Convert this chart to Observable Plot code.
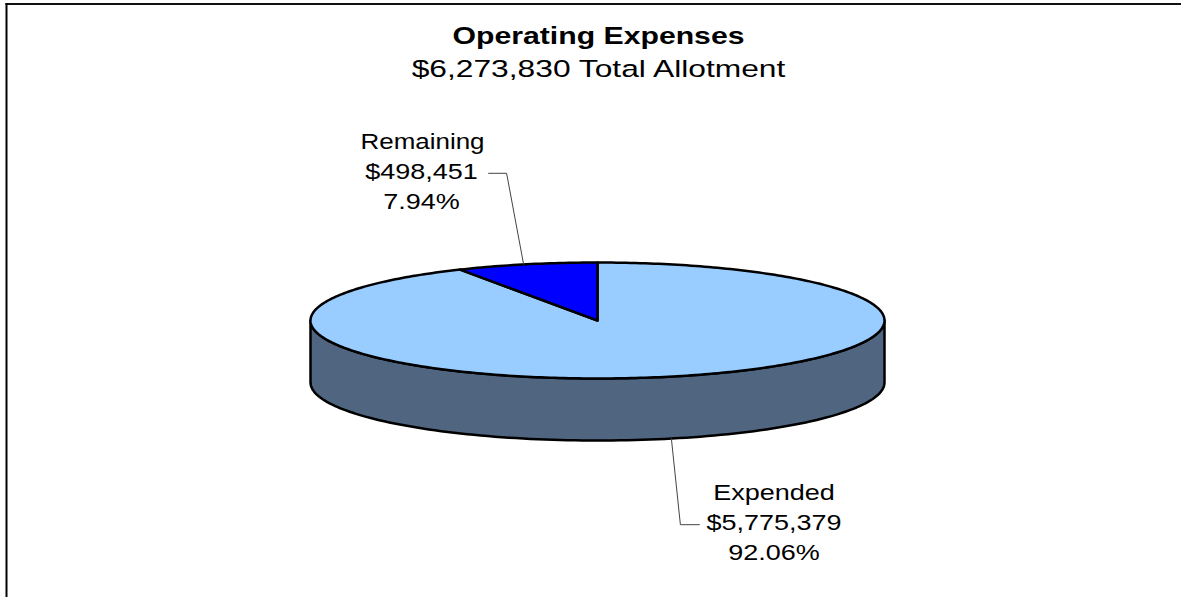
<!DOCTYPE html>
<html>
<head>
<meta charset="utf-8">
<script src="https://cdn.jsdelivr.net/npm/d3@7"></script>
<script src="https://cdn.jsdelivr.net/npm/@observablehq/plot@0.6"></script>
<style>
html,body{margin:0;padding:0;background:#fff;}
svg{display:block;max-width:none;}
</style>
</head>
<body>
<div id="chart"></div>
<script>
const categories = ["Expended", "Remaining"];
const amounts = [5775379, 498451];
const amountLabels = ["$5,775,379", "$498,451"];
const percentLabels = ["92.06%", "7.94%"];
const sliceColors = ["#99ccff", "#0000ff"];
const titleText = "Operating Expenses";
const subtitleText = "$6,273,830 Total Allotment";

const W = 1181, H = 597;
const cx = 597, cy = 320, rx = 287, ry = 58, depth = 62;
const sideColor = "#506580";
const font = "Liberation Sans";

const total = d3.sum(amounts);
const pt = a => ({x: cx + rx * Math.sin(a), y: cy - ry * Math.cos(a)});
let cum = 0;
const slices = categories.map((name, i) => {
  const a0 = cum / total * 2 * Math.PI;
  cum += amounts[i];
  const a1 = cum / total * 2 * Math.PI;
  return {name, a0, a1, mid: (a0 + a1) / 2};
});
const slicePts = slices.flatMap(s => {
  const n = Math.max(8, Math.ceil((s.a1 - s.a0) * 60));
  const arc = d3.range(n + 1).map(k => pt(s.a0 + (s.a1 - s.a0) * k / n));
  return [{x: cx, y: cy}, ...arc].map(p => ({...p, name: s.name}));
});
const front = d3.range(0, 121).map(k => pt(Math.PI / 2 + Math.PI * k / 120));
const sidePts = [...front, ...front.slice().reverse().map(p => ({x: p.x, y: p.y + depth}))];

const rimE = pt(slices[0].mid);
const rimR = pt(slices[1].mid);
const anchorE = {x: rimE.x + 3, y: rimE.y + depth};
const anchorR = {x: rimR.x - 3, y: rimR.y};
const leaderE = [anchorE, {x: anchorE.x + 9, y: anchorE.y + 86}, {x: anchorE.x + 28, y: anchorE.y + 86}];
const leaderR = [anchorR, {x: anchorR.x - 17, y: anchorR.y - 91}, {x: anchorR.x - 35, y: anchorR.y - 91}];

const lab = (x, y, text) => ({x, y, text});
const labelsRows = [
  lab(773.5, 492, categories[0]), lab(773.5, 522, amountLabels[0]), lab(773.5, 552, percentLabels[0]),
  lab(422, 141, categories[1]), lab(421, 171, amountLabels[1]), lab(421, 201, percentLabels[1])
];

const mL = 6, mT = 3.5;
const plot = Plot.plot({
  width: W, height: H,
  marginLeft: mL, marginTop: mT, marginRight: 0, marginBottom: 0,
  x: {domain: [mL, W], range: [mL, W], axis: null},
  y: {domain: [mT, H], range: [mT, H], axis: null},
  color: {domain: categories, range: sliceColors},
  style: {background: "#fff"},
  marks: [
    Plot.frame({anchor: "top", stroke: "#111", strokeWidth: 2}),
    Plot.frame({anchor: "left", stroke: "#000", strokeWidth: 2}),
    Plot.line(sidePts, {x: "x", y: "y", curve: "linear-closed", fill: sideColor, stroke: "#000", strokeWidth: 2.5, strokeLinejoin: "round"}),
    Plot.line(slicePts, {x: "x", y: "y", z: "name", curve: "linear-closed", fill: "name", stroke: "#000", strokeWidth: 2.5, strokeLinejoin: "round"}),
    Plot.line(leaderE, {x: "x", y: "y", stroke: "#444", strokeWidth: 1}),
    Plot.line(leaderR, {x: "x", y: "y", stroke: "#444", strokeWidth: 1}),
    Plot.text([titleText], {x: cx + 1, y: 36, text: d => d, fontFamily: font, fontSize: 24, fontWeight: "bold", fill: "#000", textAnchor: "middle", lineAnchor: "middle"}),
    Plot.text([subtitleText], {x: cx + 1, y: 69, text: d => d, fontFamily: font, fontSize: 24.5, fill: "#000", textAnchor: "middle", lineAnchor: "middle"}),
    Plot.text(labelsRows, {x: "x", y: "y", text: "text", fontFamily: font, fontSize: 22, fill: "#000", textAnchor: "middle", lineAnchor: "middle"})
  ]
});
document.getElementById("chart").appendChild(plot);

// The reference's type is horizontally wide: widen each line, keeping real text.
const stretchFor = t => t === titleText ? 1.258 : t === subtitleText ? 1.296 : t === categories[1] ? 1.18 : 1.227;
d3.select(plot).selectAll("text").each(function () {
  const len = this.getComputedTextLength();
  this.setAttribute("textLength", (len * stretchFor(this.textContent)).toFixed(1));
  this.setAttribute("lengthAdjust", "spacingAndGlyphs");
});
</script>
</body>
</html>
